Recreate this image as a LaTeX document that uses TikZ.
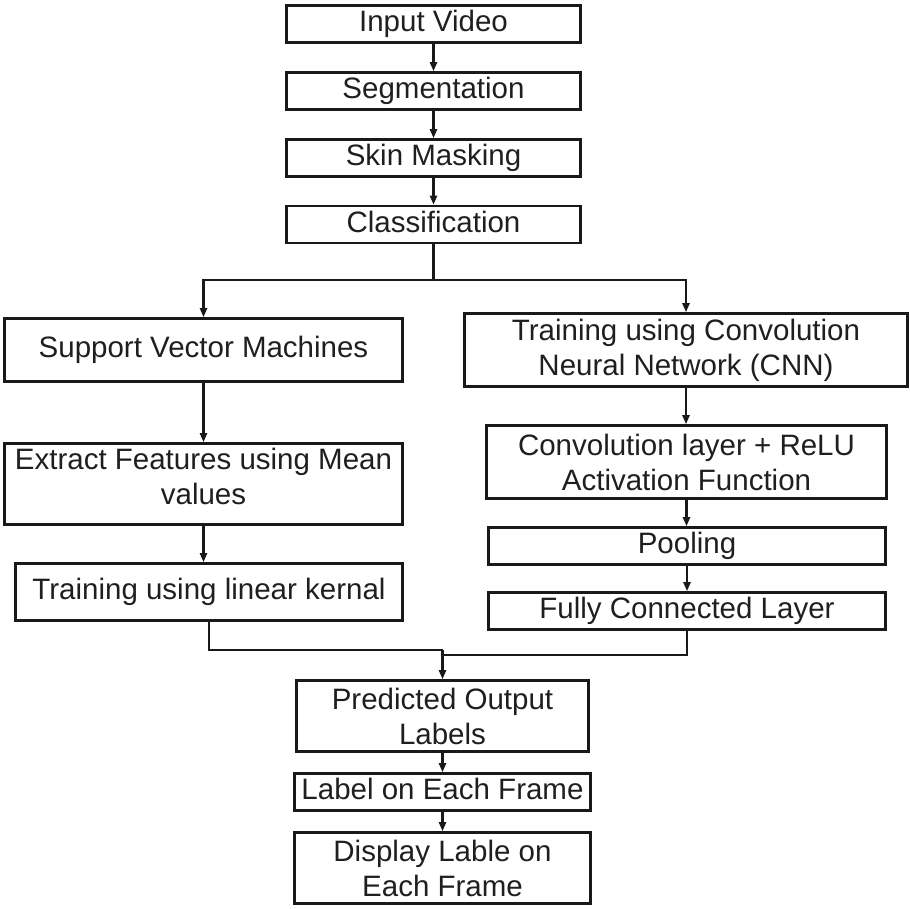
\documentclass[tikz,border=0pt]{standalone}
\usepackage{fontspec}
\setmainfont{Liberation Sans}
\usetikzlibrary{arrows.meta}
\begin{document}
\begin{tikzpicture}[x=1pt,y=-1pt,
  box/.style={draw=black!90,line width=2.6pt,align=center,inner sep=0pt,
    font=\fontsize{29.5}{35}\selectfont,text=black!88},
  one/.style={box,text height=21pt,text depth=6pt},
  line/.style={draw=black!90,line width=2.6pt},
  arr/.style={line,-{Triangle[length=9pt,width=7pt]}}]
\useasboundingbox (0,0) rectangle (910,908);
\node[one,minimum width=294,minimum height=37] (in) at (433.5,24) {Input Video};
\node[one,minimum width=294,minimum height=37] (seg) at (433.5,91) {Segmentation};
\node[one,minimum width=294,minimum height=37] (skin) at (433.5,158) {Skin Masking};
\node[one,minimum width=294,minimum height=37] (cls) at (433.5,224.5) {Classification};
\node[one,minimum width=398,minimum height=63] (svm) at (203.5,350) {Support Vector Machines};
\node[box,minimum width=443,minimum height=73] (cnn) at (686,350) {Training using Convolution\\Neural Network (CNN)};
\node[box,text depth=15pt,minimum width=398,minimum height=81] (ext) at (203.5,484) {Extract Features using Mean\\values};
\node[box,minimum width=400,minimum height=73] (conv) at (686.5,462) {Convolution layer + ReLU\\Activation Function};
\node[one,minimum width=397,minimum height=37] (pool) at (687,546) {Pooling};
\node[one,minimum width=397,minimum height=37] (fc) at (687,611) {Fully Connected Layer};
\node[one,minimum width=387,minimum height=57] (lin) at (209,592) {Training using linear kernal};
\node[box,minimum width=292,minimum height=71] (pred) at (442.5,716) {Predicted Output\\Labels};
\node[one,minimum width=296,minimum height=37] (lab) at (442.5,792) {Label on Each Frame};
\node[box,minimum width=296,minimum height=71] (disp) at (442.5,868) {Display Lable on\\Each Frame};
\draw[arr] (in) -- (seg);
\draw[arr] (seg) -- (skin);
\draw[arr] (skin) -- (cls);
\coordinate (split) at (433.5,280);
\draw[line] (cls) -- (split);
\draw[arr] (split) -| (svm.north);
\draw[arr] (split) -| (cnn.north);
\draw[arr] (svm) -- (ext);
\draw[arr] (ext.south) -- (ext.south |- lin.north);
\draw[arr] (cnn.south) -- (cnn.south |- conv.north);
\draw[arr] (conv.south) -- (conv.south |- pool.north);
\draw[arr] (pool) -- (fc);
\coordinate (mergeA) at (442.5,650);
\coordinate (mergeB) at (442.5,655);
\draw[line] (lin.south) |- (mergeA);
\draw[line] (fc.south) |- (mergeB);
\draw[arr] (mergeA) -- (pred.north);
\draw[arr] (pred) -- (lab);
\draw[arr] (lab) -- (disp);
\end{tikzpicture}
\end{document}
